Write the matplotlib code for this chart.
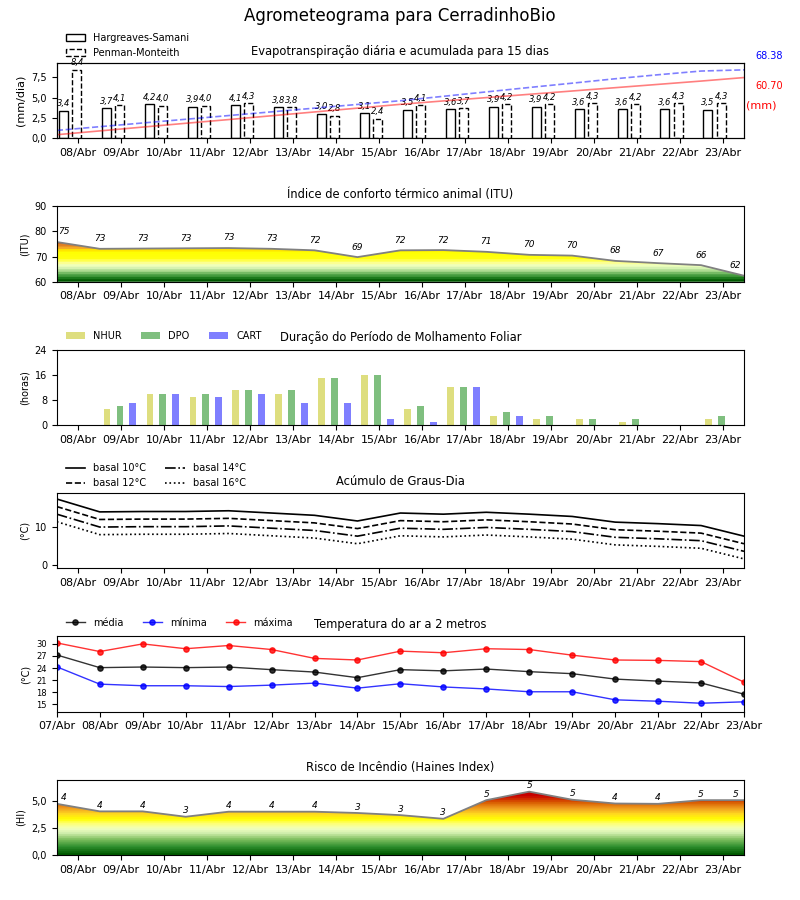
import numpy as np
import matplotlib
matplotlib.use('Agg')
import matplotlib.pyplot as plt
from matplotlib.colors import LinearSegmentedColormap

dias = ['08/Abr', '09/Abr', '10/Abr', '11/Abr', '12/Abr', '13/Abr', '14/Abr', '15/Abr',
        '16/Abr', '17/Abr', '18/Abr', '19/Abr', '20/Abr', '21/Abr', '22/Abr', '23/Abr']
dias_temp = ['07/Abr'] + dias

# evapotranspiracao diaria (mm/dia)
et_hs = [3.4, 3.7, 4.2, 3.9, 4.1, 3.8, 3.0, 3.1, 3.5, 3.6, 3.9, 3.9, 3.6, 3.6, 3.6, 3.5]
et_pm = [8.4, 4.1, 4.0, 4.0, 4.3, 3.8, 2.8, 2.4, 4.1, 3.7, 4.2, 4.2, 4.3, 4.2, 4.3, 4.3]
# acumulada (mm), nas viradas de dia
acum_hs = [3.7, 7.5, 11.3, 15.1, 18.8, 22.6, 26.4, 30.2, 34.0, 37.4, 40.7, 44.0, 47.3,
           50.6, 53.9, 57.2, 60.70]
acum_pm = [8.0, 11.7, 15.4, 19.1, 22.8, 26.5, 30.2, 33.9, 37.6, 42.0, 46.4, 50.8, 55.1,
           59.5, 63.5, 67.2, 68.38]

itu = [75.8, 73.1, 73.2, 73.3, 73.4, 73.1, 72.5, 69.8, 72.5, 72.6, 71.9, 70.7, 70.4,
       68.3, 67.4, 66.6, 62.4]

nhur = [0, 5, 10, 9, 11, 10, 15, 16, 5, 12, 3, 2, 2, 1, 0, 2]
dpo = [0, 6, 10, 10, 11, 11, 15, 16, 6, 12, 4, 3, 2, 2, 0, 3]
cart = [0, 7, 10, 9, 10, 7, 7, 2, 1, 12, 3, 0, 0, 0, 0, 0]

gd10 = [17.4, 14.0, 14.1, 14.1, 14.3, 13.7, 13.1, 11.6, 13.7, 13.4, 13.9, 13.4, 12.8,
        11.3, 10.9, 10.4, 7.6]
gd12 = [15.4, 12.0, 12.1, 12.1, 12.3, 11.7, 11.1, 9.6, 11.7, 11.4, 11.9, 11.4, 10.8,
        9.3, 8.9, 8.4, 5.6]
gd14 = [13.4, 10.0, 10.1, 10.1, 10.3, 9.7, 9.1, 7.6, 9.7, 9.4, 9.9, 9.4, 8.8,
        7.3, 6.9, 6.4, 3.6]
gd16 = [11.4, 8.0, 8.1, 8.1, 8.3, 7.7, 7.1, 5.6, 7.7, 7.4, 7.9, 7.4, 6.8,
        5.3, 4.9, 4.4, 1.6]

t_med = [27.25, 24.1, 24.25, 24.1, 24.25, 23.6, 23.0, 21.6, 23.6, 23.3, 23.75, 23.1,
         22.6, 21.25, 20.75, 20.3, 17.5]
t_min = [24.3, 20.0, 19.6, 19.6, 19.4, 19.75, 20.25, 19.0, 20.1, 19.3, 18.8, 18.1,
         18.1, 16.1, 15.75, 15.25, 15.6]
t_max = [30.25, 28.1, 30.0, 28.8, 29.6, 28.6, 26.4, 26.0, 28.2, 27.8, 28.8, 28.6,
         27.2, 26.0, 25.9, 25.6, 20.5]

haines = [4.75, 4.05, 4.05, 3.55, 4.02, 4.02, 4.02, 3.9, 3.7, 3.36, 5.09, 5.88, 5.13,
          4.78, 4.75, 5.09, 5.09]

cores_itu = [(60, '#005800'), (61.5, '#2a8a2a'), (63, '#70b860'), (64.5, '#c4e8a4'),
             (66, '#ecffc4'), (67.5, '#ffff88'), (69, '#ffff10'), (72, '#ffff00'),
             (72.8, '#ffd000'), (73.6, '#f0a030'), (75, '#d87020'), (76.5, '#c85000'),
             (90, '#c85000')]
cores_hi = [(0, '#005a00'), (0.7, '#2f8f2f'), (1.4, '#80c060'), (2.0, '#d4f0b0'),
            (2.4, '#f0ffc0'), (2.9, '#ffff70'), (3.3, '#ffff00'), (3.8, '#ffd820'),
            (4.3, '#f0a020'), (4.9, '#d85a00'), (5.5, '#c80000'), (7, '#b00000')]


def virgula(v, n=1):
    return f'{v:.{n}f}'.replace('.', ',')


def preenche(ax, xs, ys, cores, ylim, nbandas):
    lo, hi = ylim
    stops = [((v - lo) / (hi - lo), c) for v, c in cores]
    cmap = LinearSegmentedColormap.from_list('grad', stops, N=nbandas)
    poly = ax.fill_between(xs, ys, lo, facecolor='none', edgecolor='none')
    grad = np.linspace(0, 1, 512).reshape(-1, 1)
    im = ax.imshow(grad, aspect='auto', cmap=cmap, origin='lower',
                   extent=[xs[0], xs[-1], lo, hi], zorder=1)
    im.set_clip_path(poly.get_paths()[0], transform=ax.transData)
    ax.plot(xs, ys, color='gray', lw=1.3, zorder=2)


def rotulos(ax, xs, ys, dy):
    for xi, v in zip(xs, ys):
        ax.annotate(str(int(v)), (np.clip(xi, -0.33, 15.3), v), xytext=(0, dy),
                    textcoords='offset points', ha='center', va='bottom',
                    fontsize=6.5, style='italic')


x = np.arange(len(dias))
xb = np.arange(len(dias) + 1) - 0.5

fig, axs = plt.subplots(6, 1, figsize=(8, 9))
fig.subplots_adjust(left=0.071, right=0.93, top=0.93, bottom=0.05, hspace=0.9)
fig.suptitle('Agrometeograma para CerradinhoBio', fontsize=12, y=0.992)

# 1 - evapotranspiracao
ax = axs[0]
ax.bar(x - 0.34, et_hs, width=0.21, facecolor='white', edgecolor='k', lw=1,
       label='Hargreaves-Samani')
ax.bar(x - 0.03, et_pm, width=0.21, facecolor='white', edgecolor='k', lw=1, ls='--',
       label='Penman-Monteith')
for xi, v in zip(x - 0.34, et_hs):
    ax.text(xi, v + 0.3, virgula(v), ha='center', va='bottom', fontsize=6, style='italic')
for xi, v in zip(x - 0.03, et_pm):
    ax.text(xi, v + 0.3, virgula(v), ha='center', va='bottom', fontsize=6, style='italic')
ax.set_ylim(0, max(et_pm) * 1.1)
ax.set_yticks([0, 2.5, 5, 7.5])
ax.set_yticklabels([virgula(t) for t in [0, 2.5, 5, 7.5]])
ax.set_ylabel('(mm/dia)', fontsize=8)
ax.set_title('Evapotranspiração diária e acumulada para 15 dias', fontsize=8.3)
ax.legend(loc='lower left', bbox_to_anchor=(0, 0.95), frameon=False, fontsize=7)
axt = ax.twinx()
axt.plot(xb, acum_hs, 'r-', alpha=0.5, lw=1.2)
axt.plot(xb, acum_pm, 'b--', alpha=0.5, lw=1.2)
axt.set_ylim(0, acum_pm[-1] * 1.1)
axt.set_yticks([])
ax.text(1.017, 1.09, f'{acum_pm[-1]:.2f}', color='b', transform=ax.transAxes,
        fontsize=7, va='center')
ax.text(1.017, 0.69, f'{acum_hs[-1]:.2f}', color='r', transform=ax.transAxes,
        fontsize=7, va='center')
ax.text(1.003, 0.44, '(mm)', color='r', transform=ax.transAxes, fontsize=8, va='center')

# 2 - ITU
ax = axs[1]
preenche(ax, xb, itu, cores_itu, (60, 90), 30)
rotulos(ax, xb, itu, 4)
ax.set_ylim(60, 90)
ax.set_yticks([60, 70, 80, 90])
ax.set_ylabel('(ITU)', fontsize=7)
ax.set_title('Índice de conforto térmico animal (ITU)', fontsize=8.3)

# 3 - molhamento foliar
ax = axs[2]
ax.bar(x - 0.33, nhur, width=0.16, color='y', alpha=0.5, label='NHUR')
ax.bar(x - 0.03, dpo, width=0.16, color='g', alpha=0.5, label='DPO')
ax.bar(x + 0.27, cart, width=0.16, color='b', alpha=0.5, label='CART')
ax.set_ylim(0, 24)
ax.set_yticks([0, 8, 16, 24])
ax.set_ylabel('(horas)', fontsize=7)
ax.set_title('Duração do Período de Molhamento Foliar', fontsize=8.3)
ax.legend(loc='lower left', bbox_to_anchor=(0, 1.0), frameon=False, fontsize=7, ncol=3)

# 4 - graus-dia
ax = axs[3]
ax.plot(xb, gd10, 'k-', lw=1.2, label='basal 10°C')
ax.plot(xb, gd12, 'k--', lw=1.2, label='basal 12°C')
ax.plot(xb, gd14, 'k-.', lw=1.2, label='basal 14°C')
ax.plot(xb, gd16, 'k:', lw=1.2, label='basal 16°C')
ax.set_ylim(-0.9, 19.0)
ax.set_yticks([0, 10])
ax.set_ylabel('(°C)', fontsize=7)
ax.set_title('Acúmulo de Graus-Dia', fontsize=8.3)
ax.legend(loc='lower left', bbox_to_anchor=(0, 0.95), frameon=False, fontsize=7, ncol=2)

# 5 - temperatura
ax = axs[4]
xt = np.arange(len(dias_temp))
ax.plot(xt, t_med, 'k-', marker='o', ms=3.8, lw=1, alpha=0.8, label='média')
ax.plot(xt, t_min, 'b-', marker='o', ms=3.8, lw=1, alpha=0.8, label='mínima')
ax.plot(xt, t_max, 'r-', marker='o', ms=3.8, lw=1, alpha=0.8, label='máxima')
ax.set_xlim(0, len(dias_temp) - 1)
ax.set_xticks(xt)
ax.set_xticklabels(dias_temp, fontsize=8)
ax.set_ylim(13.15, 31.9)
ax.set_yticks([15, 18, 21, 24, 27, 30])
ax.tick_params(axis='y', labelsize=6)
ax.set_ylabel('(°C)', fontsize=7)
ax.set_title('Temperatura do ar a 2 metros', fontsize=8.3)
ax.legend(loc='lower left', bbox_to_anchor=(0, 1.0), frameon=False, fontsize=7, ncol=3)

# 6 - Haines
ax = axs[5]
preenche(ax, xb, haines, cores_hi, (0, 7), 40)
rotulos(ax, xb, haines, 1)
ax.set_ylim(0, 7)
ax.set_yticks([0, 2.5, 5])
ax.set_yticklabels([virgula(t) for t in [0, 2.5, 5]])
ax.set_ylabel('(HI)', fontsize=7)
ax.set_title('Risco de Incêndio (Haines Index)', fontsize=8.3)

for i in [0, 1, 2, 3, 5]:
    axs[i].set_xlim(-0.5, len(dias) - 0.5)
    axs[i].set_xticks(x)
    axs[i].set_xticklabels(dias, fontsize=8)
for i in [0, 1, 2, 3, 5]:
    axs[i].tick_params(axis='y', labelsize=7)

fig.set_facecolor('white')
plt.savefig('out.png', format='PNG', dpi=100, facecolor=fig.get_facecolor())
